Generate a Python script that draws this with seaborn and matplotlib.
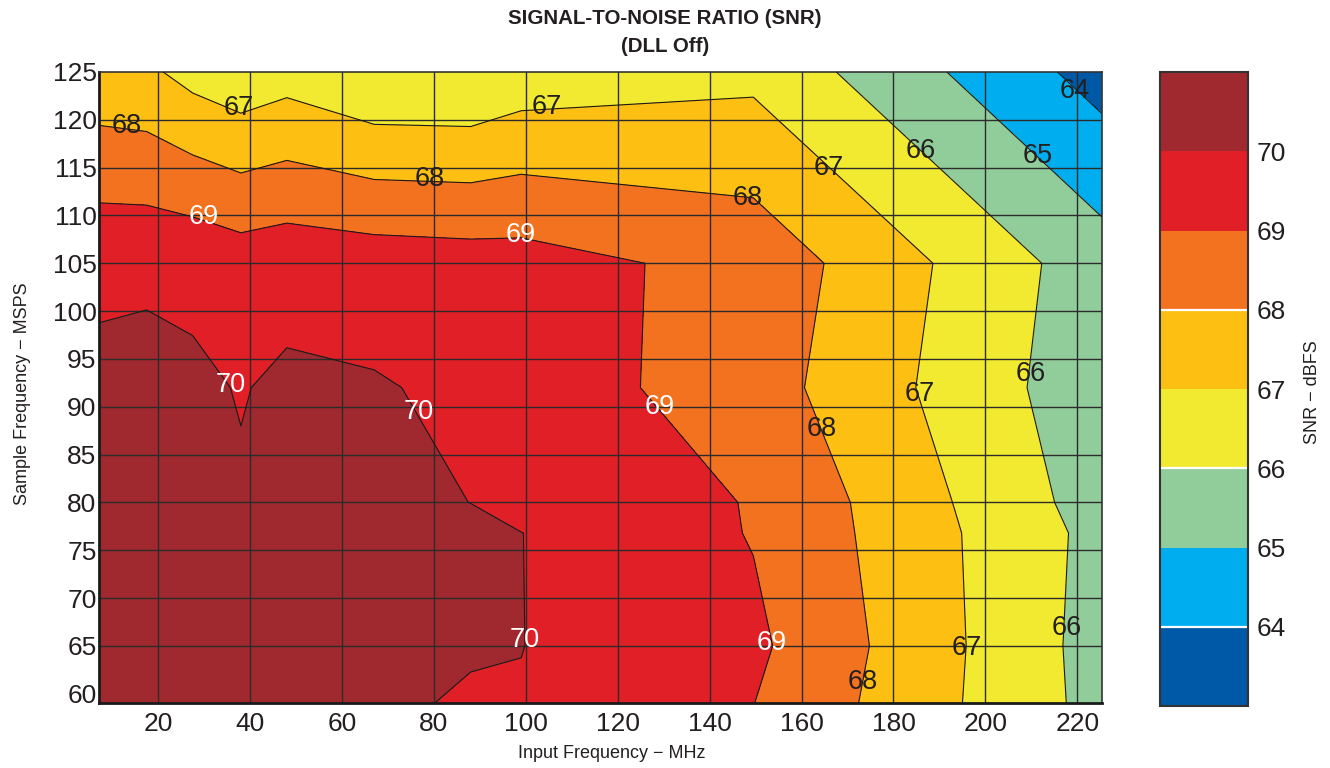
import numpy as np
import pandas as pd
import seaborn as sns
import matplotlib
matplotlib.use("Agg")
from matplotlib import pyplot as plt

# input frequency (MHz) columns and sample frequency (MSPS) rows of the SNR grid
input_freq = [7.2, 17.5, 27.5, 38, 48, 67, 88, 99, 149.5, 225.3]
sample_freq = [59, 65, 76.8, 80, 92, 105, 125]

# SNR (dBFS), one list per sample frequency row
snr_59 = [70.6, 70.7, 70.6, 70.5, 70.6, 70.3, 69.82, 69.95, 69.013, 65.66]
snr_65 = [70.6, 70.7, 70.6, 70.5, 70.6, 70.5, 70.15, 70.013, 69.2, 65.6]
snr_77 = [70.6, 70.7, 70.55, 70.4, 70.55, 70.5, 70.3, 70.01, 68.95, 65.69]
snr_80 = [70.6, 70.7, 70.5, 70.1, 70.5, 70.4, 69.99, 69.7, 68.95, 65.54]
snr_92 = [70.24, 70.35, 70.18, 69.95, 70.17, 70.08, 69.80, 69.57, 68.46, 65.33]
snr_105 = [69.78, 69.79, 69.75, 69.51, 69.64, 69.52, 69.43, 69.40, 68.65, 65.45]
snr_125 = [67.31, 67.19, 66.66, 66.31, 66.59, 66.05, 66.03, 66.39, 66.75, 63.6]

levels = [62, 64, 65, 66, 67, 68, 69, 70, 72]
band_colors = ['#0059A6', '#00AEEF', '#91CD9A', '#F1EA31',
               '#FDBF12', '#F37220', '#E11F26', '#A0292F']

x_ticks = [20, 40, 60, 80, 100, 120, 140, 160, 180, 200, 220]
y_ticks = [60, 65, 70, 75, 80, 85, 90, 95, 100, 105, 110, 115, 120, 125]

# where the contour values are written (layout only)
label_spots = [(13.2, 119.4, 68), (37.6, 121.2, 67), (104.6, 121.3, 67),
               (79.0, 113.8, 68), (30.0, 109.8, 69), (98.9, 108.0, 69),
               (148.2, 111.8, 68), (165.9, 115.0, 67), (186.0, 116.7, 66),
               (211.4, 116.2, 65), (219.4, 123.0, 64), (35.7, 92.3, 70),
               (76.6, 89.5, 70), (129.1, 90.0, 69), (164.3, 87.7, 68),
               (185.7, 91.3, 67), (209.8, 93.4, 66), (99.7, 65.6, 70),
               (153.4, 65.3, 69), (173.4, 61.2, 68), (195.9, 64.8, 67),
               (217.7, 66.9, 66)]

sns.set_theme(style="white")
plt.rcParams['font.family'] = ['Liberation Sans', 'DejaVu Sans']
plt.rcParams['axes.unicode_minus'] = True

grid = pd.DataFrame([snr_59, snr_65, snr_77, snr_80, snr_92, snr_105, snr_125],
                    index=sample_freq, columns=input_freq)

fig = plt.figure(figsize=(13.3, 7.68), dpi=100)
ax = fig.add_axes([0.0747, 0.0842, 0.7536, 0.8221])

cf = ax.contourf(grid.columns.values, grid.index.values, grid.values,
                 levels=levels, colors=sns.color_palette(band_colors))
ax.contour(grid.columns.values, grid.index.values, grid.values,
           levels=levels[1:-1], colors='#1a1a1a', linewidths=0.8, zorder=3)

# grid lines over the filled areas
for xv in x_ticks:
    ax.axvline(xv, color='#2b2b2b', lw=1.0, zorder=2)
for yv in y_ticks[1:-1]:
    ax.axhline(yv, color='#2b2b2b', lw=1.0, zorder=2)

for lx, ly, lv in label_spots:
    col = 'white' if lv >= 69 else '#231F20'
    ax.text(lx, ly, str(lv), ha='center', va='center', fontsize=19.5,
            color=col, zorder=5)

ax.set_xlim(input_freq[0], input_freq[-1])
ax.set_ylim(sample_freq[0], sample_freq[-1])
ax.set_xticks(x_ticks)
ax.set_yticks(y_ticks)
ax.tick_params(axis='both', length=0, labelsize=19, colors='#231F20')
ax.tick_params(axis='x', pad=6)
ax.tick_params(axis='y', pad=2)
for side in ['left', 'bottom']:
    ax.spines[side].set_linewidth(2.0)
    ax.spines[side].set_color('#1a1a1a')
for side in ['top', 'right']:
    ax.spines[side].set_linewidth(1.2)
    ax.spines[side].set_color('#333333')

ax.set_xlabel('Input Frequency \u2212 MHz', fontsize=13, color='#231F20')
ax.set_ylabel('Sample Frequency \u2212 MSPS', fontsize=13, color='#231F20')
ax.xaxis.set_label_coords(0.511, -0.066)
ax.yaxis.set_label_coords(-0.068, 0.49)

fig.text(0.5, 1 - 18 / 768, 'SIGNAL-TO-NOISE RATIO (SNR)', ha='center',
         va='center', fontsize=14.8, fontweight='bold', color='#231F20')
fig.text(0.5, 1 - 46 / 768, '(DLL Off)', ha='center', va='center',
         fontsize=14.8, fontweight='bold', color='#231F20')

# colour bar
cax = fig.add_axes([0.8722, 0.0807, 0.0662, 0.8254])
cb = fig.colorbar(cf, cax=cax, ticks=levels[1:-1])
cb.outline.set_linewidth(1.5)
cb.outline.set_edgecolor('#333333')
for v in [64, 66, 68]:
    cax.axhline(v, color='white', lw=1.6)
cax.tick_params(axis='y', direction='in', length=4, width=1, left=True,
                right=True, labelsize=19, colors='#231F20', pad=6)
cb.set_label('SNR \u2212 dBFS', fontsize=13, color='#231F20')
cax.yaxis.set_label_coords(1.63, 0.495)

fig.savefig('out.png', dpi=100)
